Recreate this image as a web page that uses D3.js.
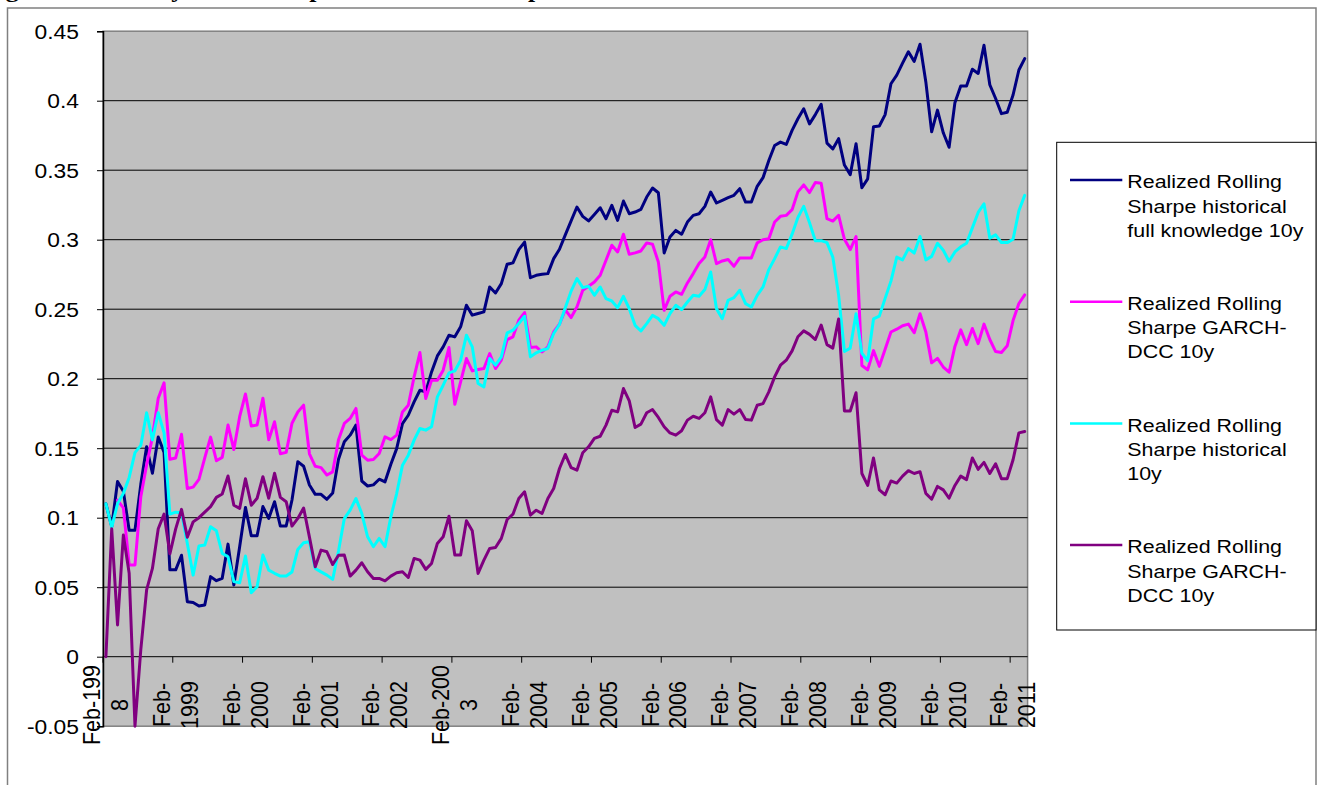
<!DOCTYPE html>
<html>
<head>
<meta charset="utf-8">
<script src="https://cdn.jsdelivr.net/npm/d3@7"></script>
<style>
  html, body { margin: 0; padding: 0; background: #ffffff; }
  svg { display: block; }
</style>
</head>
<body>
<svg id="chart" width="1330" height="785"></svg>
<script>
// Monthly categories: Feb-1998 through Apr-2011
const months = d3.timeMonth.range(new Date(1998, 1, 1), new Date(2011, 4, 1));

// Realized rolling Sharpe ratios, one value per month
const fullKnowledge = [
  0.110,0.0935,0.126,0.119,0.091,0.091,0.124,0.151,0.132,0.158,
  0.147,0.0625,0.0625,0.073,0.0396,0.039,0.0365,0.0372,0.0576,0.0547,
  0.0564,0.081,0.0516,0.0791,0.1074,0.087,0.087,0.108,0.0995,0.1115,
  0.094,0.094,0.1127,0.1403,0.137,0.1235,0.1168,0.1168,0.1132,0.1177,
  0.142,0.1546,0.1594,0.1666,0.1264,0.1228,0.1236,0.1277,0.1258,0.1385,
  0.1497,0.1677,0.1737,0.1833,0.1917,0.1905,0.2049,0.2164,0.2229,0.2313,
  0.2301,0.2373,0.2529,0.2457,0.2469,0.2481,0.2660,0.2617,0.2684,0.2823,
  0.2833,0.2928,0.2983,0.2727,0.2744,0.2751,0.2756,0.2864,0.2931,0.3035,
  0.3135,0.3235,0.3168,0.3135,0.3182,0.3230,0.3151,0.3247,0.3139,0.3278,
  0.3187,0.3199,0.3218,0.3307,0.3372,0.3338,0.2905,0.3019,0.3067,0.3039,
  0.3127,0.3175,0.3187,0.3240,0.3343,0.3264,0.3283,0.3302,0.3319,0.3367,
  0.3271,0.3271,0.3384,0.3446,0.3570,0.3678,0.3702,0.3685,0.3786,0.3870,
  0.3942,0.3833,0.3900,0.3974,0.3695,0.3653,0.3727,0.3537,0.3468,0.3690,
  0.3374,0.3438,0.3813,0.3818,0.3900,0.4122,0.4184,0.4270,0.4352,0.4283,
  0.4406,0.4135,0.3776,0.3932,0.3769,0.3665,0.3986,0.4105,0.4105,0.4226,
  0.4196,0.4399,0.4115,0.4016,0.3907,0.3917,0.4041,0.4221,0.4303
];
const garchDcc = [
  null,null,0.1126,0.107,0.066,0.066,0.115,0.138,0.158,0.186,
  0.197,0.142,0.143,0.16,0.121,0.122,0.1276,0.143,0.158,0.141,
  0.1434,0.1667,0.149,0.1727,0.189,0.166,0.1667,0.186,0.156,0.169,
  0.146,0.147,0.168,0.176,0.181,0.146,0.137,0.136,0.1307,0.133,
  0.156,0.1678,0.1714,0.1786,0.145,0.1414,0.1419,0.1462,0.1582,0.1562,
  0.1594,0.1761,0.1809,0.2013,0.2188,0.1857,0.1989,0.1989,0.2061,0.2224,
  0.1816,0.1977,0.2145,0.2056,0.2066,0.2073,0.2181,0.2073,0.2133,0.2281,
  0.2301,0.2421,0.2476,0.2224,0.2229,0.2193,0.2229,0.2336,0.2392,0.2495,
  0.2440,0.2516,0.2636,0.2665,0.2696,0.2744,0.2852,0.2960,0.2912,0.3039,
  0.2895,0.2905,0.2919,0.2977,0.2967,0.2840,0.2492,0.2593,0.2624,0.2607,
  0.2689,0.2756,0.2828,0.2876,0.3000,0.2828,0.2847,0.2857,0.2809,0.2869,
  0.2869,0.2869,0.2977,0.3000,0.3007,0.3127,0.3168,0.3175,0.3216,0.3344,
  0.3394,0.3339,0.3411,0.3406,0.3151,0.3134,0.3176,0.3003,0.2929,0.3023,
  0.2095,0.2064,0.2202,0.2089,0.2212,0.2336,0.2356,0.2381,0.2393,0.2331,
  0.2467,0.2336,0.2114,0.2146,0.2084,0.2047,0.2232,0.2351,0.2245,0.2361,
  0.2252,0.2393,0.2282,0.2195,0.2188,0.2237,0.2418,0.2541,0.2603
];
const historical = [
  0.11,0.093,0.11,0.1175,0.129,0.1468,0.152,0.1755,0.156,0.1755,
  0.161,0.1026,0.104,0.1035,0.0815,0.0587,0.0796,0.0803,0.0935,0.0906,
  0.0743,0.0719,0.054,0.0532,0.0724,0.046,0.0503,0.0731,0.0623,0.06,
  0.058,0.058,0.061,0.0772,0.082,0.0827,0.0635,0.061,0.0587,0.0556,
  0.076,0.0994,0.1055,0.1138,0.103,0.0863,0.0791,0.0851,0.0791,0.1006,
  0.1174,0.1378,0.145,0.1558,0.1642,0.163,0.1654,0.1869,0.1953,0.2042,
  0.2056,0.2133,0.2313,0.2229,0.1965,0.1941,0.2145,0.2097,0.2157,0.2329,
  0.2349,0.2397,0.2449,0.2157,0.2186,0.2205,0.2217,0.2325,0.2390,0.2510,
  0.2630,0.2720,0.2655,0.2665,0.2600,0.2660,0.2576,0.2559,0.2511,0.2593,
  0.2504,0.2384,0.2343,0.2396,0.2456,0.2432,0.2384,0.2468,0.2528,0.2497,
  0.2552,0.2600,0.2593,0.2641,0.2768,0.2504,0.2432,0.2564,0.2583,0.2636,
  0.2540,0.2516,0.2600,0.2660,0.2785,0.2864,0.2948,0.2936,0.3040,0.3160,
  0.3240,0.3122,0.2993,0.2993,0.2979,0.2875,0.2603,0.2196,0.2220,0.2468,
  0.2183,0.2129,0.2430,0.2450,0.2578,0.2702,0.2875,0.2855,0.2936,0.2904,
  0.3023,0.2855,0.2880,0.2974,0.2924,0.2845,0.2912,0.2949,0.2974,0.3085,
  0.3196,0.3258,0.3011,0.3035,0.2979,0.2979,0.3003,0.3208,0.3319
];
const garchDccB = [
  0,0.092,0.0228,0.0875,0.06,-0.05,0.005,0.048,0.0635,0.092,
  0.1026,0.074,0.092,0.106,0.086,0.097,0.1,0.104,0.108,0.1146,
  0.117,0.13,0.109,0.1067,0.128,0.109,0.114,0.1295,0.114,0.132,
  0.1146,0.1115,0.094,0.0995,0.107,0.086,0.0647,0.0767,0.0755,0.0663,
  0.073,0.0731,0.058,0.0623,0.0676,0.0611,0.0563,0.0563,0.0546,0.058,
  0.0604,0.0611,0.057,0.0707,0.0695,0.0628,0.0671,0.0815,0.0863,0.1011,
  0.0731,0.0731,0.0978,0.0906,0.0599,0.0695,0.0779,0.0786,0.0851,0.0987,
  0.1025,0.1138,0.1186,0.1018,0.1054,0.1030,0.1138,0.1210,0.1354,0.1455,
  0.1360,0.1342,0.1467,0.1510,0.1570,0.1586,0.1666,0.1773,0.1761,0.1929,
  0.1840,0.1649,0.1673,0.1755,0.1778,0.1721,0.1654,0.1610,0.1594,0.1625,
  0.1702,0.1730,0.1714,0.1755,0.1869,0.1706,0.1666,0.1778,0.1745,0.1778,
  0.1706,0.1702,0.1809,0.1821,0.1905,0.2013,0.2097,0.2133,0.2200,0.2302,
  0.2344,0.2319,0.2282,0.2386,0.2245,0.2220,0.2430,0.1768,0.1768,0.1899,
  0.1318,0.1232,0.1430,0.1200,0.1165,0.1264,0.1249,0.1299,0.1338,0.1318,
  0.1331,0.1175,0.1133,0.1225,0.1200,0.1140,0.1232,0.1299,0.1274,0.1430,
  0.1348,0.1398,0.1318,0.1388,0.1281,0.1281,0.1417,0.1610,0.1620
];

const seriesLegend = [
  ["Realized Rolling", "Sharpe historical", "full knowledge 10y"],
  ["Realized Rolling", "Sharpe GARCH-", "DCC 10y"],
  ["Realized Rolling", "Sharpe historical", "10y"],
  ["Realized Rolling", "Sharpe GARCH-", "DCC 10y"]
];
const seriesColors = ["#000080", "#FF00FF", "#00FFFF", "#800080"];
const seriesValues = [fullKnowledge, garchDcc, historical, garchDccB];

const yTicks = [-0.05, 0, 0.05, 0.1, 0.15, 0.2, 0.25, 0.3, 0.35, 0.4, 0.45];
const yTickLabels = ["-0.05", "0", "0.05", "0.1", "0.15", "0.2", "0.25", "0.3", "0.35", "0.4", "0.45"];
// Category label every 12 months, wrapped onto two lines
const xTickLines = [
  ["Feb-199", "8"], ["Feb-", "1999"], ["Feb-", "2000"], ["Feb-", "2001"], ["Feb-", "2002"],
  ["Feb-200", "3"], ["Feb-", "2004"], ["Feb-", "2005"], ["Feb-", "2006"], ["Feb-", "2007"],
  ["Feb-", "2008"], ["Feb-", "2009"], ["Feb-", "2010"], ["Feb-", "2011"]
];
const titleText = "Figure 3: Monthly out-of-sample annualized Sharpe ratios";

const svg = d3.select("#chart");
const sansFont = "'Liberation Sans', Arial, Helvetica, sans-serif";

const plot = { left: 103, right: 1027.6, top: 31.2, bottom: 726.2 };

const x = d3.scaleBand().domain(months).range([plot.left, plot.right]).padding(0);
const y = d3.scaleLinear().domain([-0.05, 0.45]).range([plot.bottom, plot.top]);
const bw = x.bandwidth();

svg.append("rect").attr("width", 1330).attr("height", 785).attr("fill", "#ffffff");

// caption line of the surrounding document; only its descenders reach below the page top
svg.append("text")
  .attr("transform", "translate(-17,-3) scale(1.17,1)")
  .attr("font-family", "'Liberation Serif', 'Times New Roman', serif")
  .attr("font-weight", "bold")
  .attr("font-size", 22)
  .attr("fill", "#000")
  .text(titleText);

// chart area frame
svg.append("path")
  .attr("d", "M7.5,790 V8 H1316 V790")
  .attr("fill", "none")
  .attr("stroke", "#808080")
  .attr("stroke-width", 1.5);

// plot area
svg.append("rect")
  .attr("x", plot.left).attr("y", plot.top)
  .attr("width", plot.right - plot.left).attr("height", plot.bottom - plot.top)
  .attr("fill", "#C0C0C0")
  .attr("stroke", "#808080")
  .attr("stroke-width", 1.5);

// horizontal gridlines
svg.append("g").selectAll("line")
  .data(yTicks.filter(v => v > 0 && v < 0.45))
  .join("line")
  .attr("x1", plot.left).attr("x2", plot.right)
  .attr("y1", d => y(d)).attr("y2", d => y(d))
  .attr("stroke", "#000").attr("stroke-width", 1);

// value axis
const yAxis = d3.axisLeft(y).tickValues(yTicks).tickSize(6).tickFormat(() => "");
const yG = svg.append("g").attr("transform", `translate(${plot.left},0)`).call(yAxis);
yG.select(".domain").attr("stroke", "#000").attr("stroke-width", 1.5);
yG.selectAll(".tick line").attr("stroke", "#000");

svg.append("g").selectAll("text")
  .data(yTicks)
  .join("text")
  .attr("transform", d => `translate(79,${y(d) + 7.5}) scale(1.17,1)`)
  .attr("text-anchor", "end")
  .attr("font-family", sansFont)
  .attr("font-size", 19.5)
  .attr("fill", "#000")
  .text((d, i) => yTickLabels[i]);

// category axis along zero
const tickMonths = months.filter((m, i) => i % 12 === 0);
svg.append("line")
  .attr("x1", plot.left).attr("x2", plot.right)
  .attr("y1", y(0)).attr("y2", y(0))
  .attr("stroke", "#000").attr("stroke-width", 1);
svg.append("g").selectAll("line")
  .data(tickMonths)
  .join("line")
  .attr("x1", d => x(d)).attr("x2", d => x(d))
  .attr("y1", y(0)).attr("y2", y(0) + 6)
  .attr("stroke", "#000").attr("stroke-width", 1);

const xLab = svg.append("g").selectAll("g")
  .data(tickMonths)
  .join("g")
  .attr("transform", d => `translate(${x(d) + bw / 2},705) scale(1.085,1) rotate(-90)`);
xLab.each(function(d, i) {
  const t = d3.select(this).append("text")
    .attr("text-anchor", "middle")
    .attr("font-family", sansFont)
    .attr("font-size", 21.5)
    .attr("fill", "#000");
  t.append("tspan").attr("x", 0).attr("y", -5.2).text(xTickLines[i][0]);
  t.append("tspan").attr("x", 0).attr("y", 20.6).text(xTickLines[i][1]);
});

// series lines
svg.append("defs").append("clipPath").attr("id", "plotClip")
  .append("rect")
  .attr("x", plot.left).attr("y", plot.top - 2)
  .attr("width", plot.right - plot.left).attr("height", plot.bottom - plot.top + 4);

const line = d3.line()
  .defined(d => d.v !== null)
  .x(d => x(d.m) + bw / 2)
  .y(d => y(d.v));

svg.append("g").attr("clip-path", "url(#plotClip)")
  .selectAll("path")
  .data(seriesValues)
  .join("path")
  .attr("d", vals => line(vals.map((v, i) => ({ m: months[i], v }))))
  .attr("fill", "none")
  .attr("stroke", (d, i) => seriesColors[i])
  .attr("stroke-width", 3)
  .attr("stroke-linejoin", "round")
  .attr("stroke-linecap", "round");

// legend
const legend = svg.append("g");
legend.append("rect")
  .attr("x", 1056.7).attr("y", 142.3)
  .attr("width", 1316 - 1056.7).attr("height", 630 - 142.3)
  .attr("fill", "#ffffff")
  .attr("stroke", "#000").attr("stroke-width", 1);

seriesLegend.forEach((lines, k) => {
  const top = 180 + k * 121.7;
  legend.append("line")
    .attr("x1", 1070).attr("x2", 1122.3)
    .attr("y1", top).attr("y2", top)
    .attr("stroke", seriesColors[k]).attr("stroke-width", 2.5);
  lines.forEach((txt, j) => {
    legend.append("text")
      .attr("transform", `translate(1127.3,${top + 8.3 + j * 24.2}) scale(1.157,1)`)
      .attr("font-family", sansFont)
      .attr("font-size", 18.5)
      .attr("fill", "#000")
      .text(txt);
  });
});
</script>
</body>
</html>
